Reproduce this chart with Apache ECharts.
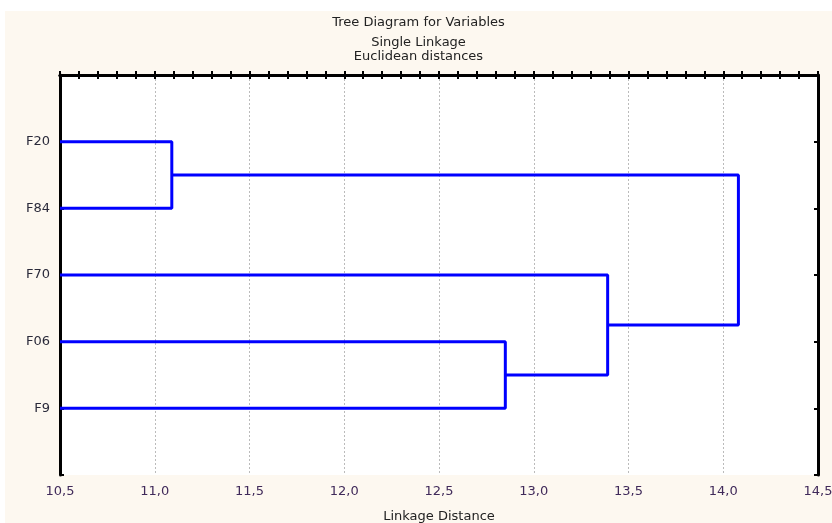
<!DOCTYPE html>
<html>
<head>
<meta charset="utf-8">
<script src="https://cdn.jsdelivr.net/npm/echarts@6/dist/echarts.min.js"></script>
<style>
  html, body { margin: 0; padding: 0; background: #ffffff; overflow: hidden; }
  #chart { position: absolute; left: 5px; top: 11px; width: 827px; height: 512px; background: #fdf8f0; }
</style>
</head>
<body>
<div id="chart"></div>
<script>
// leaves, top to bottom
const leaves = ["F20", "F84", "F70", "F06", "F9"];
// merges: [cluster a, cluster b, linkage distance]; clusters 0..4 are leaves, 5.. are merges
const merges = [
  [0, 1, 11.09],
  [3, 4, 12.85],
  [2, 6, 13.39],
  [5, 7, 14.08]
];
const xTicks = [10.5, 11.0, 11.5, 12.0, 12.5, 13.0, 13.5, 14.0, 14.5];
const xMin = 10.5, xMax = 14.5;

const fontFam = "DejaVu Sans, sans-serif";
const chart = echarts.init(document.getElementById("chart"), null, { renderer: "canvas" });

// position (row) and distance of every cluster
const pos = leaves.map((_, i) => i + 1);
const dist = leaves.map(() => xMin);
const series = merges.map(([a, b, d]) => {
  const pts = [
    [dist[a], pos[a]],
    [d, pos[a]],
    [d, pos[b]],
    [dist[b], pos[b]]
  ];
  pos.push((pos[a] + pos[b]) / 2);
  dist.push(d);
  return {
    type: "line",
    data: pts,
    symbol: "none",
    lineStyle: { color: "#0000ff", width: 3 },
    animation: false,
    z: 3
  };
});

const tickFmt = v => {
  const m = xTicks.find(t => Math.abs(t - v) < 1e-6);
  return m === undefined ? "" : m.toFixed(1).replace(".", ",");
};

const tick = { inside: true, length: 4, lineStyle: { color: "#000", width: 2 } };
const minor = { show: true, splitNumber: 5, length: 4, lineStyle: { color: "#000", width: 2 } };

chart.setOption({
  animation: false,
  title: [
    { text: "Tree Diagram for Variables", left: "center", top: 0,
      textStyle: { fontFamily: fontFam, fontSize: 13, fontWeight: "normal", color: "#222" } },
    { text: "Single Linkage\nEuclidean distances", left: "center", top: 20,
      textStyle: { fontFamily: fontFam, fontSize: 13, fontWeight: "normal", color: "#222", lineHeight: 14 } }
  ],
  grid: {
    left: 55, top: 64, right: 14, bottom: 48,
    outerBoundsMode: "none",
    show: true, backgroundColor: "#ffffff", borderWidth: 0
  },
  xAxis: [
    {
      type: "value", min: xMin, max: xMax, interval: 0.5, position: "bottom",
      name: "Linkage Distance", nameLocation: "middle", nameGap: 35,
      nameTextStyle: { fontFamily: fontFam, fontSize: 13, color: "#222" },
      axisLine: { lineStyle: { color: "#000", width: 3 } },
      axisTick: tick,
      minorTick: minor,
      axisLabel: { formatter: tickFmt, fontFamily: fontFam, fontSize: 13, color: "#402a5a", margin: 10, showMaxLabel: true, showMinLabel: true },
      splitLine: { show: true, lineStyle: { color: "#bbbbbb", type: [2, 2], width: 1 } }
    },
    {
      type: "value", min: xMin, max: xMax, interval: 0.5, position: "top",
      axisLine: { show: true, lineStyle: { color: "#000", width: 3 } },
      axisTick: tick,
      minorTick: minor,
      axisLabel: { show: false },
      splitLine: { show: false }
    }
  ],
  yAxis: [
    {
      type: "value", min: 0, max: leaves.length + 1, interval: 1, inverse: true, position: "left",
      axisLine: { show: true, lineStyle: { color: "#000", width: 3 } },
      axisTick: { show: true, inside: true, length: 4, lineStyle: { color: "#000", width: 2 } },
      axisLabel: {
        formatter: v => leaves[v - 1] || "",
        fontFamily: fontFam, fontSize: 13, color: "#2a2a3a", margin: 10
      },
      splitLine: { show: false }
    },
    {
      type: "value", min: 0, max: leaves.length + 1, interval: 1, inverse: true, position: "right",
      axisLine: { show: true, lineStyle: { color: "#000", width: 3 } },
      axisTick: { show: true, inside: true, length: 4, lineStyle: { color: "#000", width: 2 } },
      axisLabel: { show: false },
      splitLine: { show: false }
    }
  ],
  series: series
});
</script>
</body>
</html>
